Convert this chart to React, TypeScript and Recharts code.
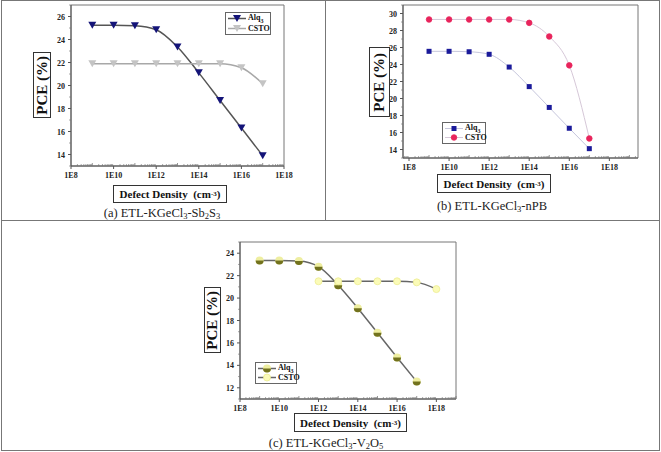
import React from "react";
import { LineChart, Line, XAxis, YAxis, ReferenceArea } from "recharts";

// defect density exponents (1E9 ... 1E17) and PCE values
const decadesNine = [9, 10, 11, 12, 13, 14, 15, 16, 17];
const decadesC = [12, 13, 14, 15, 16, 17, 18];

const alq3Sb2S3 = [25.25, 25.25, 25.2, 24.85, 23.35, 21.1, 18.7, 16.3, 13.9];
const cstoSb2S3 = [21.9, 21.9, 21.9, 21.9, 21.9, 21.9, 21.9, 21.55, 20.15];

const alq3NPB = [25.55, 25.55, 25.5, 25.2, 23.7, 21.4, 18.95, 16.5, 14.1];
const cstoNPB = [29.3, 29.3, 29.3, 29.3, 29.3, 28.9, 27.3, 23.9, 15.3];

const alq3V2O5 = [23.35, 23.35, 23.3, 22.8, 21.15, 19.1, 16.9, 14.7, 12.55];
const cstoV2O5 = [21.5, 21.5, 21.5, 21.5, 21.5, 21.4, 20.8];

const xLabelTicks = [8, 10, 12, 14, 16, 18];
const yTicksA = [14, 16, 18, 20, 22, 24, 26];
const yTicksB = [14, 16, 18, 20, 22, 24, 26, 28, 30];
const yTicksC = [12, 14, 16, 18, 20, 22, 24];

const FONT = '"Times New Roman", Tinos, "Liberation Serif", serif';
const PAD = 14;

type DotFn = (p: any) => React.ReactElement;

const triDown = (fill: string): DotFn => (p) => (
  <path
    key={`t-${p.index}`}
    d={`M${p.cx - 4},${p.cy - 3.5} L${p.cx + 4},${p.cy - 3.5} L${p.cx},${p.cy + 3.5} Z`}
    fill={fill}
  />
);

const square = (fill: string): DotFn => (p) => (
  <rect key={`s-${p.index}`} x={p.cx - 2.5} y={p.cy - 2.5} width={5} height={5} fill={fill} />
);

const circle = (fill: string, stroke: string, r = 3): DotFn => (p) => (
  <circle key={`c-${p.index}`} cx={p.cx} cy={p.cy} r={r} fill={fill} stroke={stroke} strokeWidth={0.8} />
);

const halfDot = (top: string, bottom: string): DotFn => (p) => (
  <g key={`h-${p.index}`}>
    <circle cx={p.cx} cy={p.cy} r={4} fill={top} />
    <path d={`M${p.cx - 4},${p.cy} A4,4 0 0 0 ${p.cx + 4},${p.cy} Z`} fill={bottom} />
  </g>
);

interface Series {
  name: string;
  xs: number[];
  ys: number[];
  stroke: string;
  width: number;
  dot: DotFn;
}

interface PanelProps {
  left: number;
  top: number;
  width: number;
  height: number;
  xDomain: [number, number];
  yDomain: [number, number];
  yTicks: number[];
  series: Series[];
}

function minorX(domain: [number, number]) {
  const out: number[] = [];
  for (let n = Math.floor(domain[0]); n <= domain[1]; n++) {
    for (let k = 1; k <= 9; k++) {
      const v = n + Math.log10(k);
      if (v >= domain[0] - 1e-6 && v <= domain[1] + 1e-6) out.push(v);
    }
  }
  return out;
}

function XTick({ x, y, payload }: any) {
  const v = payload.value;
  const isLabel = xLabelTicks.some((t) => Math.abs(t - v) < 1e-6);
  const isDecade = Math.abs(v - Math.round(v)) < 1e-6;
  if (isLabel) {
    return (
      <g>
        <line x1={x} y1={y} x2={x} y2={y + 3} stroke="#555" />
        <text x={x} y={y + 12} textAnchor="middle" fontSize={8} fontWeight="bold" fontFamily={FONT} fill="#222">
          {`1E${v}`}
        </text>
      </g>
    );
  }
  return <line x1={x} y1={y} x2={x} y2={y - (isDecade ? 3 : 1.8)} stroke="#777" strokeWidth={0.8} />;
}

function YTick({ x, y, payload }: any) {
  const v = payload.value;
  if (v % 2 !== 0) return <line x1={x} y1={y} x2={x - 1.8} y2={y} stroke="#777" strokeWidth={0.8} />;
  return (
    <g>
      <line x1={x} y1={y} x2={x - 3} y2={y} stroke="#555" />
      <text x={x - 6} y={y + 3} textAnchor="end" fontSize={8} fontWeight="bold" fontFamily={FONT} fill="#222">
        {v}
      </text>
    </g>
  );
}

// width = distance from chart left edge to the right border of the plot box
function Panel({ left, top, width, height, xDomain, yDomain, yTicks, series }: PanelProps) {
  const yAll: number[] = [];
  for (let v = yDomain[0]; v <= yDomain[1]; v++) yAll.push(v);
  return (
    <div style={{ position: "absolute", left, top }}>
      <LineChart width={width + PAD} height={height} margin={{ top: 5, right: PAD, left: 0, bottom: 0 }}>
        <XAxis
          type="number"
          dataKey="x"
          domain={xDomain}
          allowDataOverflow
          ticks={minorX(xDomain)}
          interval={0}
          tickSize={0}
          tickMargin={0}
          tickLine={false}
          tick={<XTick />}
          height={19}
          axisLine={{ stroke: "#555" }}
        />
        <YAxis
          type="number"
          domain={yDomain}
          allowDataOverflow
          ticks={yAll.filter((v) => v >= yTicks[0] - 1)}
          interval={0}
          tickSize={0}
          tickMargin={0}
          tickLine={false}
          tick={<YTick />}
          width={31}
          axisLine={{ stroke: "#555" }}
        />
        <ReferenceArea
          x1={xDomain[0]}
          x2={xDomain[1]}
          y1={yDomain[0]}
          y2={yDomain[1]}
          fill="none"
          stroke="#777"
          strokeWidth={1}
        />
        {series.map((s) => (
          <Line
            key={s.name}
            data={s.xs.map((x, i) => ({ x, y: s.ys[i] }))}
            dataKey="y"
            type="monotone"
            stroke={s.stroke}
            strokeWidth={s.width}
            dot={s.dot}
            activeDot={false}
            isAnimationActive={false}
          />
        ))}
      </LineChart>
    </div>
  );
}

function LegendBox({ left, top, width, height, series }: { left: number; top: number; width: number; height: number; series: Series[] }) {
  return (
    <div
      style={{
        position: "absolute",
        left,
        top,
        width,
        height,
        border: "1px solid #666",
        background: "#fff",
        boxSizing: "border-box",
        padding: "1px 2px",
      }}
    >
      {series.map((s) => (
        <div key={s.name} style={{ display: "flex", alignItems: "center", height: (height - 4) / 2 }}>
          <svg width={18} height={9} style={{ flex: "none" }}>
            <line x1={0} y1={4.5} x2={18} y2={4.5} stroke={s.stroke} strokeWidth={s.width} />
            {s.dot({ cx: 9, cy: 4.5, index: 0 })}
          </svg>
          <span style={{ fontFamily: FONT, fontWeight: "bold", fontSize: 8, marginLeft: 2, color: "#111" }}>
            {s.name === "Alq3" ? (
              <>
                Alq<sub style={{ fontSize: 6 }}>3</sub>
              </>
            ) : (
              s.name
            )}
          </span>
        </div>
      ))}
    </div>
  );
}

function YLabel({ left, top, width, height }: { left: number; top: number; width: number; height: number }) {
  return (
    <div
      style={{
        position: "absolute",
        left,
        top,
        width,
        height,
        border: "1.5px solid #333",
        boxSizing: "border-box",
        display: "flex",
        alignItems: "center",
        justifyContent: "center",
        background: "#fff",
      }}
    >
      <span
        style={{
          writingMode: "vertical-rl",
          transform: "rotate(180deg)",
          fontFamily: FONT,
          fontWeight: "bold",
          fontSize: 15,
          whiteSpace: "nowrap",
          color: "#111",
        }}
      >
        PCE (%)
      </span>
    </div>
  );
}

function XLabel({ left, top, width, height }: { left: number; top: number; width: number; height: number }) {
  return (
    <div
      style={{
        position: "absolute",
        left,
        top,
        width,
        height,
        border: "1.5px solid #333",
        boxSizing: "border-box",
        display: "flex",
        alignItems: "center",
        justifyContent: "center",
        fontFamily: FONT,
        fontWeight: "bold",
        fontSize: 11,
        whiteSpace: "nowrap",
        color: "#111",
      }}
    >
      Defect Density&nbsp; (cm<sup style={{ fontSize: 7, verticalAlign: "4px" }}>-3</sup>)
    </div>
  );
}

function Caption({ cx, cy, children }: { cx: number; cy: number; children: React.ReactNode }) {
  return (
    <div
      style={{
        position: "absolute",
        left: cx - 100,
        top: cy - 9,
        width: 200,
        height: 18,
        textAlign: "center",
        fontFamily: FONT,
        fontSize: 12.5,
        lineHeight: "18px",
        color: "#222",
        whiteSpace: "nowrap",
      }}
    >
      {children}
    </div>
  );
}

const sub = (t: string) => <sub style={{ fontSize: 8.5, verticalAlign: "-2px" }}>{t}</sub>;

export default function App() {
  const seriesA: Series[] = [
    { name: "Alq3", xs: decadesNine, ys: alq3Sb2S3, stroke: "#555", width: 1.5, dot: triDown("#141478") },
    { name: "CSTO", xs: decadesNine, ys: cstoSb2S3, stroke: "#a8a8a8", width: 1.5, dot: triDown("#c4c4c4") },
  ];
  const seriesB: Series[] = [
    { name: "Alq3", xs: decadesNine, ys: alq3NPB, stroke: "#c6c6dc", width: 1, dot: square("#1a1a9a") },
    { name: "CSTO", xs: decadesNine, ys: cstoNPB, stroke: "#d6c8d8", width: 1, dot: circle("#e8245c", "#e8245c", 2.8) },
  ];
  const seriesC: Series[] = [
    { name: "Alq3", xs: decadesNine, ys: alq3V2O5, stroke: "#666", width: 1.5, dot: halfDot("#eeeea0", "#72721e") },
    { name: "CSTO", xs: decadesC, ys: cstoV2O5, stroke: "#666", width: 1.5, dot: circle("#fbfbb8", "#ecec90", 3.5) },
  ];

  return (
    <div style={{ position: "absolute", left: 0, top: 0, width: 661, height: 452, background: "#fff", overflow: "hidden" }}>
      {/* frame */}
      <div style={{ position: "absolute", left: 1, top: 0, width: 659, height: 451, border: "1.5px solid #777", boxSizing: "border-box" }} />
      <div style={{ position: "absolute", left: 324.5, top: 0, width: 1.5, height: 220, background: "#777" }} />
      <div style={{ position: "absolute", left: 1, top: 219.5, width: 659, height: 1.5, background: "#777" }} />

      {/* (a) */}
      <Panel left={40} top={0} width={244} height={185} xDomain={[8, 18]} yDomain={[13, 27]} yTicks={yTicksA} series={seriesA} />
      <LegendBox left={225} top={12} width={46} height={23} series={seriesA} />
      <YLabel left={33} top={52} width={18} height={66} />
      <XLabel left={113} top={185} width={114} height={18} />
      <Caption cx={162} cy={213}>
        (a) ETL-KGeCl{sub("3")}-Sb{sub("2")}S{sub("3")}
      </Caption>

      {/* (b) */}
      <Panel left={372} top={0} width={266} height={177} xDomain={[7.7, 19.43]} yDomain={[13, 31]} yTicks={yTicksB} series={seriesB} />
      <LegendBox left={442} top={122} width={44} height={22} series={seriesB} />
      <YLabel left={369} top={47} width={21} height={70} />
      <XLabel left={437} top={174} width={114} height={19} />
      <Caption cx={492} cy={206}>
        (b) ETL-KGeCl{sub("3")}-nPB
      </Caption>

      {/* (c) */}
      <Panel left={209} top={237} width={247} height={181} xDomain={[8, 19]} yDomain={[11, 25]} yTicks={yTicksC} series={seriesC} />
      <LegendBox left={255} top={362} width={42} height={22} series={seriesC} />
      <YLabel left={204} top={287} width={17} height={66} />
      <XLabel left={294} top={413} width={113} height={19} />
      <Caption cx={326} cy={443}>
        (c) ETL-KGeCl{sub("3")}-V{sub("2")}O{sub("5")}
      </Caption>
    </div>
  );
}
